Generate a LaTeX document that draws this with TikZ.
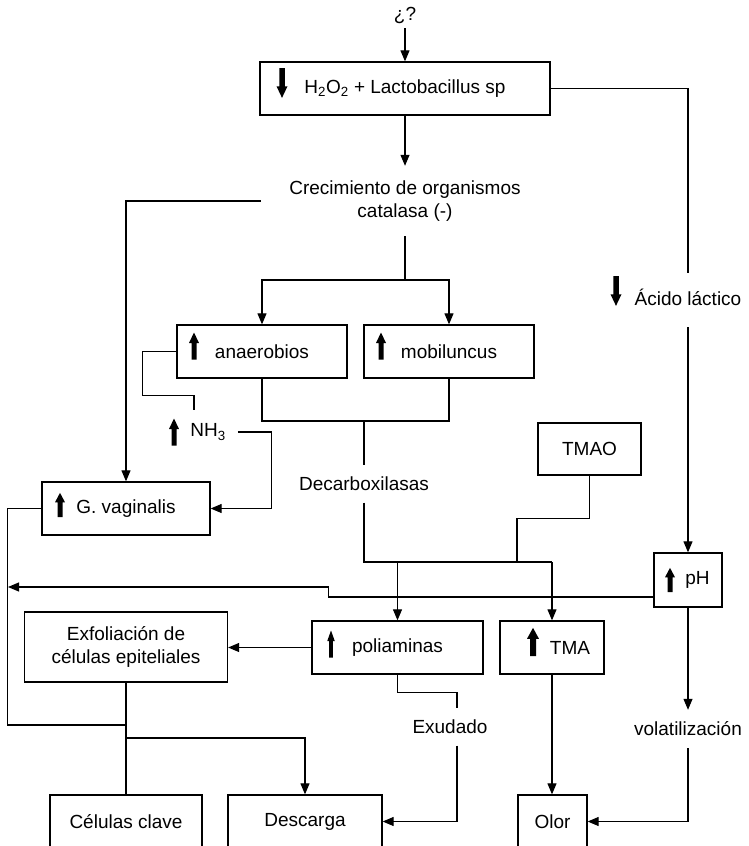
\documentclass[tikz,border=0pt]{standalone}
\usepackage{fontspec}
\setmainfont{Liberation Sans}
\usetikzlibrary{arrows.meta,calc}

\tikzset{
  box/.style={draw, line width=1.3pt, inner sep=0pt, align=center},
  lbl/.style={inner sep=0pt, align=center},
  conn/.style={line width=1.1pt},
  arr/.style={conn, -{Triangle[length=11pt,width=9pt]}},
  uparr/.pic={\fill (-2.5,13.5) -- (-2.5,-3) -- (-5,-3) -- (0,-13.5) -- (5,-3) -- (2.5,-3) -- (2.5,13.5) -- cycle;},
  downarr/.pic={\fill (-2.5,-13.5) -- (-2.5,3) -- (-5,3) -- (0,13.5) -- (5,3) -- (2.5,3) -- (2.5,-13.5) -- cycle;}
}

\begin{document}
\begin{tikzpicture}[x=1pt, y=-1pt, font=\fontsize{19}{22.5}\selectfont]
\useasboundingbox (0,0) rectangle (748,846);
\clip (0,0) rectangle (748,846);

%BOXES
\node[box, minimum width=290, minimum height=53] (lacto) at (405,88.5) {H\textsubscript{2}O\textsubscript{2} + Lactobacillus sp};
\node[box, minimum width=170, minimum height=53] (anaer) at (262,351.5) {anaerobios};
\node[box, minimum width=170, minimum height=53] (mobil) at (449,351.5) {mobiluncus};
\node[box, minimum width=103, minimum height=52] (tmao) at (589.5,449) {TMAO};
\node[box, minimum width=168, minimum height=53] (gvag) at (126,508.5) {G. vaginalis};
\node[box, minimum width=68, minimum height=54] (ph) at (688,580) {\hspace*{19pt}pH};
\node[box, minimum width=203, minimum height=70] (exfol) at (126,647) {Exfoliación de\\células epiteliales};
\node[box, minimum width=171, minimum height=53] (poli) at (397.5,647.5) {poliaminas};
\node[box, minimum width=104, minimum height=53] (tma) at (552,647.5) {\hspace*{36pt}TMA};
\node[box, minimum width=152, minimum height=53] (clave) at (126,821.5) {Células clave};
\node[box, minimum width=154, minimum height=53] (desc) at (305,821.5) {Descarga};
\node[box, minimum width=69, minimum height=53] (olor) at (552.5,821.5) {Olor};

%LABELS
\node[lbl, minimum height=26] (q) at (405,15) {¿?};
\node[lbl, minimum width=288, minimum height=70] (crec) at (405,201) {Crecimiento de organismos\\catalasa (-)};
\node[lbl, minimum height=54] (acido) at (688,300) {\raisebox{5pt}{Ácido láctico}};
\node[lbl, inner xsep=12pt] (nh3) at (208,432) {NH\textsubscript{3}};
\node[lbl, minimum height=37] (decarb) at (364,484) {Decarboxilasas};
\node[lbl, minimum height=37] (exud) at (450,727) {Exudado};
\node[lbl, minimum height=38] (volat) at (688,729) {volatilización};

%up / down signs
\pic[xscale=1.1, yscale=1.1] at (282,83) {downarr};
\pic at (194,346) {uparr};
\pic at (381,346) {uparr};
\pic[yscale=0.9] at (60,505) {uparr};
\pic[yscale=0.9] at (670,580) {uparr};
\pic[xscale=0.75] at (331,644) {uparr};
\pic[xscale=1.2, yscale=1.05] at (533,642) {uparr};
\pic[xscale=1.1, yscale=1.1] at (616,291) {downarr};
\pic at (174,432) {uparr};

%CONNECTORS
\draw[arr] (q.south) -- (lacto.north);
\draw[arr] (lacto.south) -- (crec.north);
\draw[conn] (lacto.east) -| (acido.north);
\draw[arr] (acido.south) -- (ph.north);
\draw[arr] (crec.west) -| (gvag.north);

\coordinate (split) at (405,280);
\draw[conn] (crec.south) -- (split);
\draw[arr] (split) -| (anaer.north);
\draw[arr] (split) -| (mobil.north);

\coordinate (merge) at (364,421);
\draw[conn] (anaer.south) |- (merge) -| (mobil.south);
\draw[conn] (merge) -- (decarb.north);

\coordinate (nhtop) at (194,410);
\draw[conn] (anaer.west) -- ++(-34,0) -- ++(0,44) -| (nhtop);
\draw[arr] (nh3.east) -- ++(34,0) |- (gvag.east);

\coordinate (mix) at (364,562);
\coordinate (tmaojoin) at (517,562);
\draw[conn] (decarb.south) -- (mix) -- (mix -| tma.north);
\draw[conn] (tmao.south) -- ++(0,43) -| (tmaojoin);
\draw[arr] (mix -| poli.north) -- (poli.north);
\draw[arr] (mix -| tma.north) -- (tma.north);

\coordinate (backend) at (8,587);
\draw[arr] ([yshift=-17pt]ph.west) -- ++(-325,0) |- (backend);

\coordinate (exjoin) at (126,725);
\draw[conn] (gvag.west) -- ++(-34,0) |- (exjoin);
\draw[conn] (exfol.south) -- (clave.north);
\coordinate (descjoin) at (126,738);
\draw[arr] (descjoin) -| (desc.north);

\draw[arr] (poli.west) -- (poli.west -| exfol.east);
\draw[conn] (poli.south) -- ++(0,18) -| ([xshift=7pt]exud.north);
\draw[arr] ([xshift=7pt]exud.south) |- (desc.east);

\draw[arr] (ph.south) -- (volat.north);
\draw[arr] (volat.south) |- (olor.east);
\draw[arr] (tma.south) -- (tma.south |- olor.north);
\end{tikzpicture}
\end{document}
